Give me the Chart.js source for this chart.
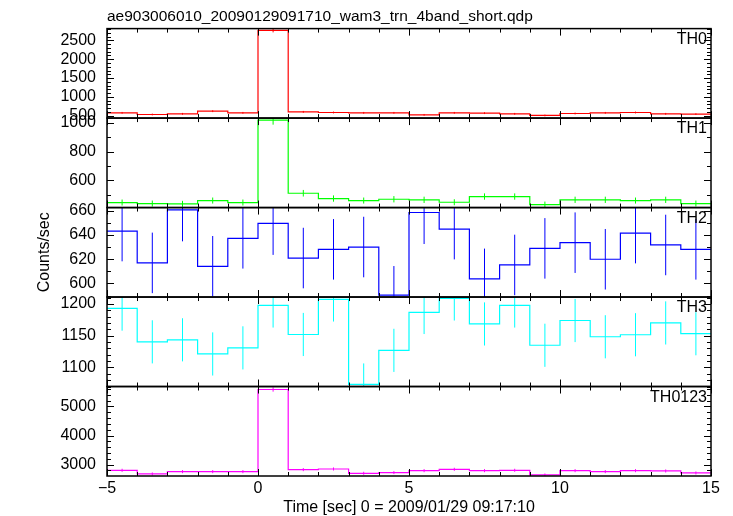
<!DOCTYPE html>
<html>
<head>
<meta charset="utf-8">
<script src="https://cdn.jsdelivr.net/npm/chart.js@4.4.1/dist/chart.umd.min.js"></script>
<style>
  html, body { margin: 0; padding: 0; background: #ffffff; }
  #wrap { position: relative; width: 733px; height: 516px; }
</style>
</head>
<body>
<div id="wrap"><canvas id="lightcurve" width="733" height="516"></canvas></div>
<script>
// 1 s bins, edges from -5 to 15
const binEdges = [-5, -4, -3, -2, -1, 0, 1, 2, 3, 4, 5, 6, 7, 8, 9, 10, 11, 12, 13, 14, 15];
const xTicks = [-5, 0, 5, 10, 15];

// count rates (counts/sec) per band
const th0Rate = [579, 535, 553, 623, 579, 2763, 605, 588, 579, 579, 526, 579, 570, 553, 509, 561, 579, 588, 553, 544];
const th0Err  = [24, 23, 24, 25, 24, 53, 25, 24, 24, 24, 23, 24, 24, 24, 23, 24, 24, 24, 24, 23];
const th0Ticks = [500, 1000, 1500, 2000, 2500];

const th1Rate = [445, 438, 436, 459, 445, 1021, 510, 473, 459, 468, 464, 447, 487, 487, 431, 464, 464, 459, 464, 438];
const th1Err  = [21, 21, 21, 21, 21, 32, 23, 22, 21, 22, 22, 21, 22, 22, 21, 22, 22, 21, 22, 21];
const th1Ticks = [600, 800, 1000];

const th2Rate = [643.3, 617, 660.8, 614.2, 637.3, 649.6, 621, 628.2, 630.1, 590.4, 658.6, 644.9, 603.8, 615.3, 629, 633.7, 620, 641.6, 631.8, 628.2];
const th2Err  = [25, 25, 26, 25, 25, 26, 25, 25, 25, 24, 26, 25, 25, 25, 25, 25, 25, 25, 25, 25];
const th2Ticks = [600, 620, 640, 660];

const th3Rate = [1193, 1140.4, 1143.6, 1121.3, 1130.9, 1197.9, 1152, 1207.4, 1073.4, 1127, 1186.7, 1209, 1168.6, 1197.9, 1135, 1174, 1148.4, 1151.6, 1170.2, 1153.2];
const th3Err  = [35, 34, 34, 34, 34, 35, 34, 35, 33, 34, 34, 35, 34, 35, 34, 34, 34, 34, 34, 34];
const th3Ticks = [1100, 1150, 1200];

const th0123Rate = [2806, 2680, 2760, 2760, 2760, 5583, 2829, 2851, 2703, 2726, 2794, 2840, 2794, 2806, 2646, 2794, 2760, 2794, 2783, 2714];
const th0123Err  = [53, 52, 53, 53, 53, 75, 53, 53, 52, 52, 53, 53, 53, 53, 51, 53, 53, 53, 53, 52];
const th0123Ticks = [3000, 4000, 5000];

// panels, top to bottom
const bands = [
  { id: 'th0',    label: 'TH0',    color: '#ff0000', rate: th0Rate,    err: th0Err,    ticks: th0Ticks,    min: 440,   max: 2810,  major: 500,  minor: 100 },
  { id: 'th1',    label: 'TH1',    color: '#00ff00', rate: th1Rate,    err: th1Err,    ticks: th1Ticks,    min: 410,   max: 1035,  major: 200,  minor: 100 },
  { id: 'th2',    label: 'TH2',    color: '#0000ff', rate: th2Rate,    err: th2Err,    ticks: th2Ticks,    min: 588.8, max: 662.7, major: 20,   minor: 10 },
  { id: 'th3',    label: 'TH3',    color: '#00ffff', rate: th3Rate,    err: th3Err,    ticks: th3Ticks,    min: 1070,  max: 1211,  major: 50,   minor: 10 },
  { id: 'th0123', label: 'TH0123', color: '#ff00ff', rate: th0123Rate, err: th0123Err, ticks: th0123Ticks, min: 2610,  max: 5685,  major: 1000, minor: 200 }
];

const FONT = '"Liberation Sans", Arial, sans-serif';

// step line: value at each left edge, plus closing point at last edge
function stepPoints(rate) {
  const pts = rate.map((v, i) => ({ x: binEdges[i], y: v }));
  pts.push({ x: binEdges[binEdges.length - 1], y: rate[rate.length - 1] });
  return pts;
}

// error bars as separate segments broken by nulls
function errPoints(band) {
  const pts = [];
  band.rate.forEach((v, i) => {
    const c = (binEdges[i] + binEdges[i + 1]) / 2;
    pts.push({ x: c, y: Math.max(v - band.err[i], band.min) });
    pts.push({ x: c, y: Math.min(v + band.err[i], band.max) });
    pts.push({ x: c, y: null });
  });
  return pts;
}

const datasets = [];
bands.forEach(b => {
  datasets.push({
    label: b.label,
    data: stepPoints(b.rate),
    yAxisID: b.id,
    stepped: true,
    borderColor: b.color,
    borderWidth: 1.2,
    pointRadius: 0,
    fill: false
  });
  datasets.push({
    label: b.label + ' err',
    data: errPoints(b),
    yAxisID: b.id,
    borderColor: b.color,
    borderWidth: 1,
    pointRadius: 0,
    spanGaps: false,
    fill: false
  });
});

const scales = {
  x: {
    type: 'linear',
    min: -5,
    max: 15,
    afterBuildTicks: (s) => { s.ticks = xTicks.map(v => ({ value: v })); },
    afterFit: (s) => { s.height = 40; },
    grid: { display: false, drawTicks: false },
    border: { display: false },
    ticks: {
      color: '#000',
      padding: 3,
      autoSkip: false,
      maxRotation: 0,
      font: { family: FONT, size: 16 },
      callback: (v) => (v < 0 ? '\u2212' + Math.abs(v) : String(v))
    },
    title: {
      display: true,
      text: 'Time [sec] 0 = 2009/01/29 09:17:10',
      color: '#000',
      font: { family: FONT, size: 16, lineHeight: 1.0 },
      padding: { top: 0, bottom: 0 }
    }
  }
};

// left boxes are laid out in reverse order, so add the bottom panel first
bands.slice().reverse().forEach(b => {
  scales[b.id] = {
    type: 'linear',
    position: 'left',
    stack: 'panels',
    stackWeight: 1,
    min: b.min,
    max: b.max,
    afterBuildTicks: (s) => { s.ticks = b.ticks.map(v => ({ value: v })); },
    afterFit: (s) => { s.width = 76; },
    grid: { display: false, drawTicks: false },
    border: { display: false },
    ticks: {
      autoSkip: false,
      color: '#000',
      padding: 11,
      font: { family: FONT, size: 16 },
      callback: (v) => String(v)
    },
    title: {
      display: b.id === 'th2',
      text: 'Counts/sec',
      color: '#000',
      font: { family: FONT, size: 16 },
      padding: { top: 4, bottom: 4 }
    }
  };
});

// frames, inward ticks and band names for every panel
const panelFrame = {
  id: 'panelFrame',
  afterDatasetsDraw(chart) {
    const ctx = chart.ctx;
    const area = chart.chartArea;
    const xs = chart.scales.x;
    ctx.save();
    ctx.strokeStyle = '#000';
    ctx.fillStyle = '#000';
    bands.forEach(b => {
      const s = chart.scales[b.id];
      ctx.lineWidth = 1;
      ctx.beginPath();
      // y ticks, left and right
      const n0 = Math.ceil(b.min / b.minor);
      const n1 = Math.floor(b.max / b.minor);
      for (let n = n0; n <= n1; n++) {
        const v = n * b.minor;
        const y = Math.round(s.getPixelForValue(v)) + 0.5;
        const len = (Math.abs(v / b.major - Math.round(v / b.major)) < 1e-6) ? 7 : 4;
        ctx.moveTo(area.left, y);
        ctx.lineTo(area.left + len, y);
        ctx.moveTo(area.right, y);
        ctx.lineTo(area.right - len, y);
      }
      // x ticks, top and bottom
      for (let t = -5; t <= 15; t++) {
        const x = Math.round(xs.getPixelForValue(t)) + 0.5;
        const len = (t % 5 === 0) ? 7 : 4;
        ctx.moveTo(x, s.top);
        ctx.lineTo(x, s.top + len);
        ctx.moveTo(x, s.bottom);
        ctx.lineTo(x, s.bottom - len);
      }
      ctx.stroke();
      ctx.lineWidth = 1.5;
      ctx.strokeRect(area.left, s.top, area.right - area.left, s.bottom - s.top);
      ctx.font = '16px ' + FONT;
      ctx.textAlign = 'right';
      ctx.textBaseline = 'top';
      ctx.fillText(b.label, area.right - 4, s.top + 3);
    });
    ctx.restore();
  }
};

const config = {
  type: 'line',
  data: { datasets: datasets },
  options: {
    responsive: false,
    animation: false,
    devicePixelRatio: 1,
    layout: { padding: { left: 31, right: 22, top: 0, bottom: 0 } },
    plugins: {
      legend: { display: false },
      tooltip: { enabled: false },
      title: {
        display: true,
        fullSize: false,
        align: 'start',
        text: 'ae903006010_20090129091710_wam3_trn_4band_short.qdp',
        color: '#000',
        font: { family: FONT, size: 15.5, weight: 'normal', lineHeight: 1.2 },
        padding: { top: 7, bottom: 3 }
      }
    },
    scales: scales
  },
  plugins: [panelFrame]
};

const lightCurveChart = new Chart(document.getElementById('lightcurve'), config);
</script>
</body>
</html>
